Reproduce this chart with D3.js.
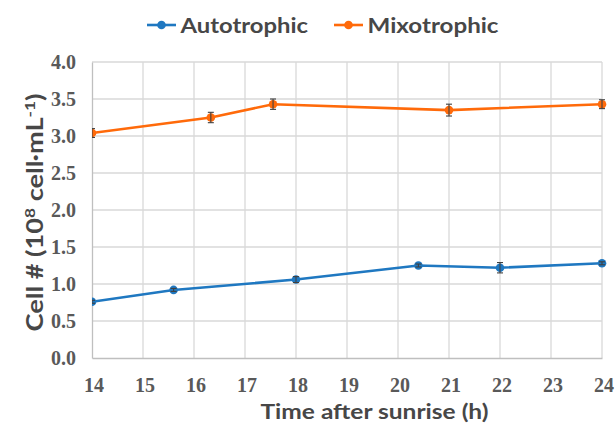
<!DOCTYPE html>
<html>
<head>
<meta charset="utf-8">
<script src="https://cdn.jsdelivr.net/npm/d3@7"></script>
<style>
  html, body { margin: 0; padding: 0; background: #fff; }
  svg { display: block; }
</style>
</head>
<body>
<svg id="chart" width="615" height="427"></svg>
<script>
// ---- data ----
const xTicks = [14, 15, 16, 17, 18, 19, 20, 21, 22, 23, 24];
const yTicks = [0, 0.5, 1.0, 1.5, 2.0, 2.5, 3.0, 3.5, 4.0];

const autoHours = [14, 15.6, 18, 20.4, 22, 24];
const autoValues = [0.76, 0.92, 1.06, 1.25, 1.22, 1.28];
const autoErrors = [0.02, 0.02, 0.04, 0.02, 0.07, 0.02];

const mixoHours = [14, 16.33, 17.55, 21, 24];
const mixoValues = [3.04, 3.25, 3.43, 3.35, 3.43];
const mixoErrors = [0.06, 0.07, 0.07, 0.08, 0.06];

const seriesNames = ["Autotrophic", "Mixotrophic"];
const seriesColors = ["#1f78c1", "#ff6a0a"];

(function () {
// ---- layout ----
const svg = d3.select("#chart");
const W = 615, H = 427;
const pLeft = 92, pRight = 602, pTop = 62, pBottom = 358;

const x = d3.scaleLinear().domain([14, 24]).range([pLeft, pRight]);
const y = d3.scaleLinear().domain([0, 4]).range([pBottom, pTop]);

svg.append("rect").attr("width", W).attr("height", H).attr("fill", "#fff");

// grid
const grid = svg.append("g");
grid.selectAll(null).data(xTicks.slice(1)).enter().append("line")
  .attr("x1", d => x(d)).attr("x2", d => x(d))
  .attr("y1", pTop).attr("y2", pBottom)
  .attr("stroke", "#d9d9d9").attr("stroke-width", 1.3);
grid.selectAll(null).data(yTicks.slice(1)).enter().append("line")
  .attr("x1", pLeft).attr("x2", pRight)
  .attr("y1", d => y(d)).attr("y2", d => y(d))
  .attr("stroke", "#d9d9d9").attr("stroke-width", 1.3);

// axes
const tickFont = "'Liberation Serif', 'Times New Roman', serif";
const xAxis = d3.axisBottom(x).tickValues(xTicks).tickSize(0).tickPadding(20)
  .tickFormat(d3.format("d"));
const gx = svg.append("g").attr("transform", `translate(0,${pBottom})`).call(xAxis);
gx.select(".domain").attr("stroke", "#bfbfbf").attr("stroke-width", 1.3);
gx.selectAll("text")
  .attr("font-family", tickFont)
  .attr("font-weight", "bold").attr("font-size", 20).attr("fill", "#595959")
  .attr("dx", 1.5);

const yAxis = d3.axisLeft(y).tickValues(yTicks).tickSize(0).tickPadding(16)
  .tickFormat(d3.format(".1f"));
const gy = svg.append("g").attr("transform", `translate(${pLeft},0)`).call(yAxis);
gy.select(".domain").attr("stroke", "#bfbfbf").attr("stroke-width", 1.3);
gy.selectAll("text")
  .attr("font-family", tickFont)
  .attr("font-weight", "bold").attr("font-size", 20).attr("fill", "#595959");

// clip
svg.append("clipPath").attr("id", "plotclip").append("rect")
  .attr("x", pLeft).attr("y", 0).attr("width", W - pLeft).attr("height", H);

const series = [
  { hours: autoHours, values: autoValues, errors: autoErrors, color: seriesColors[0] },
  { hours: mixoHours, values: mixoValues, errors: mixoErrors, color: seriesColors[1] }
];

const plot = svg.append("g").attr("clip-path", "url(#plotclip)");
const line = d3.line().x(d => x(d.h)).y(d => y(d.v));

series.forEach(s => {
  const pts = s.hours.map((h, i) => ({ h, v: s.values[i], e: s.errors[i] }));
  plot.append("path").datum(pts).attr("d", line)
    .attr("fill", "none").attr("stroke", s.color).attr("stroke-width", 2.6);
  plot.selectAll(null).data(pts).enter().append("circle")
    .attr("cx", d => x(d.h)).attr("cy", d => y(d.v)).attr("r", 4.3)
    .attr("fill", s.color);
  const eb = plot.selectAll(null).data(pts).enter().append("g")
    .attr("stroke", "#404040").attr("stroke-width", 1.1);
  eb.append("line")
    .attr("x1", d => x(d.h)).attr("x2", d => x(d.h))
    .attr("y1", d => y(d.v - d.e)).attr("y2", d => y(d.v + d.e));
  eb.append("line")
    .attr("x1", d => x(d.h) - 3).attr("x2", d => x(d.h) + 3)
    .attr("y1", d => y(d.v - d.e)).attr("y2", d => y(d.v - d.e));
  eb.append("line")
    .attr("x1", d => x(d.h) - 3).attr("x2", d => x(d.h) + 3)
    .attr("y1", d => y(d.v + d.e)).attr("y2", d => y(d.v + d.e));
});

// axis titles
const titleFont = "Lato, 'Open Sans', sans-serif";
svg.append("text")
  .attr("x", 374.5).attr("y", 418.5)
  .attr("text-anchor", "middle")
  .attr("font-family", titleFont).attr("font-weight", "bold")
  .attr("font-size", 20).attr("fill", "#474747")
  .attr("textLength", 228).attr("lengthAdjust", "spacingAndGlyphs")
  .text("Time after sunrise (h)");

const yt = svg.append("text")
  .attr("transform", "translate(43,212.5) rotate(-90)")
  .attr("text-anchor", "middle")
  .attr("font-family", titleFont).attr("font-weight", "bold")
  .attr("font-size", 22).attr("fill", "#474747")
  .attr("textLength", 238).attr("lengthAdjust", "spacingAndGlyphs");
yt.append("tspan").text("Cell # (10");
yt.append("tspan").attr("baseline-shift", "super").attr("font-size", 14).text("8");
yt.append("tspan").text(" cell·mL");
yt.append("tspan").attr("baseline-shift", "super").attr("font-size", 14).text("-1");
yt.append("tspan").text(")");

// legend
const legendX = [147, 334];
const legendW = [127.5, 131];
const legend = svg.append("g");
seriesNames.forEach((name, i) => {
  const g = legend.append("g").attr("transform", `translate(${legendX[i]},25)`);
  g.append("line").attr("x1", 0).attr("x2", 29).attr("y1", 0).attr("y2", 0)
    .attr("stroke", seriesColors[i]).attr("stroke-width", 2.6);
  g.append("circle").attr("cx", 14.5).attr("cy", 0).attr("r", 4.3).attr("fill", seriesColors[i]);
  g.append("text").attr("x", 33.5).attr("y", 7.5)
    .attr("font-family", titleFont).attr("font-weight", "bold")
    .attr("font-size", 21).attr("fill", "#474747")
    .attr("textLength", legendW[i]).attr("lengthAdjust", "spacingAndGlyphs")
    .text(name);
});
})();
</script>
</body>
</html>
